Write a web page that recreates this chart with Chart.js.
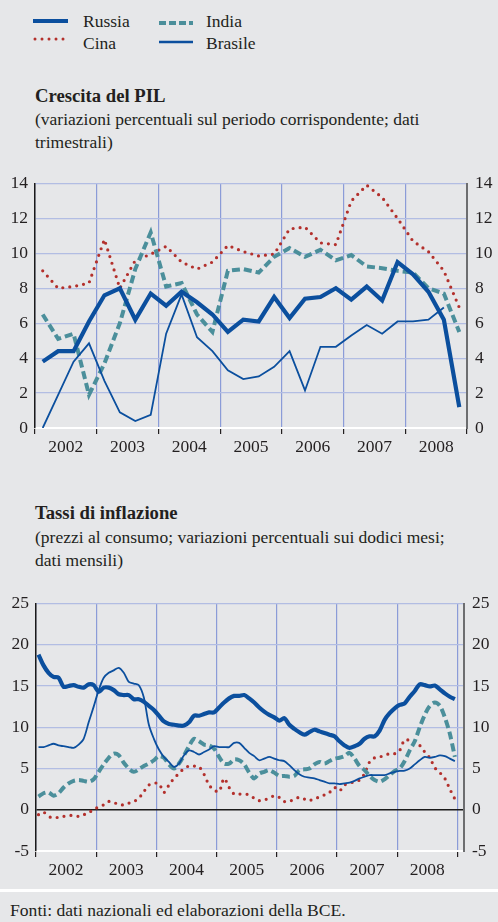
<!DOCTYPE html>
<html>
<head>
<meta charset="utf-8">
<script src="https://cdn.jsdelivr.net/npm/chart.js@4.4.1/dist/chart.umd.min.js"></script>
<style>
  body { margin: 0; background: #e6e7e9; }
  #page { position: relative; width: 498px; height: 922px; overflow: hidden;
          font-family: "Liberation Serif", "Times New Roman", serif; color: #231f20; }
  .txt { position: absolute; left: 35px; font-size: 17.5px; line-height: 22.5px; white-space: nowrap; }
  .tit { font-weight: bold; font-size: 18.7px; }
  .leg { position: absolute; font-size: 17.5px; line-height: 20px; white-space: nowrap; }
  canvas { position: absolute; left: 0; }
</style>
</head>
<body>
<div id="page">
  <svg style="position:absolute;left:0;top:0" width="240" height="60">
    <line x1="33" y1="21" x2="68" y2="21" stroke="#0b4f9e" stroke-width="4"/>
    <line x1="35" y1="39" x2="68" y2="39" stroke="#b3302c" stroke-width="3" stroke-linecap="round" stroke-dasharray="0 7"/>
    <line x1="159" y1="23" x2="193" y2="23" stroke="#4b8f9b" stroke-width="4" stroke-dasharray="7 3"/>
    <line x1="159" y1="42" x2="193" y2="42" stroke="#0b4f9e" stroke-width="2.5"/>
  </svg>
  <div class="leg" style="left:83px;top:11px">Russia</div>
  <div class="leg" style="left:83px;top:33px">Cina</div>
  <div class="leg" style="left:206px;top:11px">India</div>
  <div class="leg" style="left:206px;top:33px">Brasile</div>

  <div class="txt tit" style="top:85px">Crescita del PIL</div>
  <div class="txt" style="top:108px">(variazioni percentuali sul periodo corrispondente; dati<br>trimestrali)</div>
  <canvas id="pil" width="498" height="305" style="top:165px"></canvas>

  <div class="txt tit" style="top:502px">Tassi di inflazione</div>
  <div class="txt" style="top:526px">(prezzi al consumo; variazioni percentuali sui dodici mesi;<br>dati mensili)</div>
  <canvas id="inf" width="498" height="300" style="top:585px"></canvas>

  <div style="position:absolute;left:0;top:889px;width:498px;height:3px;background:#fff"></div>
  <div class="txt" style="left:10px;top:899px;font-size:17.6px">Fonti: dati nazionali ed elaborazioni della BCE.</div>
</div>

<script>
// anni sull'asse orizzontale
var years = [2002, 2003, 2004, 2005, 2006, 2007, 2008];

// Crescita del PIL, dati trimestrali 2002T1 - 2008T4
var pilRussia  = [3.8, 4.4, 4.4, 6.1, 7.6, 8.0, 6.2, 7.7, 7.0, 7.8, 7.2, 6.5, 5.5, 6.2,
                  6.1, 7.5, 6.3, 7.4, 7.5, 8.0, 7.35, 8.1, 7.3, 9.5, 8.8, 7.8, 6.2, 1.2];
var pilCina    = [9.0, 8.0, 8.1, 8.3, 10.8, 8.0, 9.6, 9.95, 10.4, 9.5, 9.1, 9.5, 10.45, 10.1,
                  9.85, 9.95, 11.4, 11.5, 10.6, 10.5, 13.0, 13.9, 13.2, 12.0, 10.7, 10.1, 9.0, 6.9];
var pilIndia   = [6.5, 5.1, 5.4, 1.9, 3.7, 6.0, 9.1, 11.2, 8.1, 8.3, 6.5, 5.5, 9.0, 9.1,
                  8.9, 9.8, 10.3, 9.8, 10.2, 9.6, 9.9, 9.25, 9.15, 9.0, 8.9, 8.0, 7.7, 5.5];
var pilBrasile = [0.0, 1.9, 3.8, 4.85, 2.7, 0.9, 0.4, 0.75, 5.4, 7.65, 5.2, 4.4, 3.3, 2.8,
                  2.95, 3.5, 4.4, 2.15, 4.65, 4.65, 5.3, 5.9, 5.4, 6.1, 6.1, 6.2, 6.9, null];

// Tassi di inflazione, dati mensili gen 2002 - dic 2008
var infRussia = [18.8, 17.5, 16.6, 16.1, 16.0, 14.9, 15.0, 15.1, 14.9, 14.8, 15.2, 15.1,
                 14.3, 14.8, 14.8, 14.5, 14.0, 13.9, 13.9, 13.4, 13.4, 13.1, 12.6, 12.1,
                 11.4, 10.7, 10.4, 10.3, 10.2, 10.2, 10.6, 11.4, 11.4, 11.6, 11.8, 11.8,
                 12.4, 13.0, 13.5, 13.8, 13.8, 13.9, 13.5, 13.0, 12.4, 11.9, 11.5, 11.2,
                 10.8, 11.1, 10.3, 9.8, 9.4, 9.1, 9.4, 9.7, 9.5, 9.3, 9.1, 8.9,
                 8.3, 7.8, 7.5, 7.7, 8.0, 8.6, 8.9, 8.9, 9.6, 10.9, 11.7, 12.3,
                 12.7, 12.9, 13.7, 14.4, 15.2, 15.1, 14.95, 15.05, 14.6, 14.1, 13.7, 13.4];
var infBrasile = [7.6, 7.6, 7.8, 8.0, 7.8, 7.7, 7.6, 7.5, 7.9, 8.6, 10.6, 12.5,
                  14.5, 16.0, 16.6, 16.9, 17.2, 16.6, 15.5, 15.3, 15.1, 13.6, 10.3, 8.6,
                  7.3, 6.4, 5.8, 5.2, 5.6, 6.6, 7.2, 7.0, 6.7, 7.0, 7.3, 7.7,
                  7.6, 7.6, 7.6, 8.1, 8.1, 7.5, 6.9, 6.5, 6.0, 6.2, 6.4, 6.2,
                  6.0, 5.9, 5.4, 4.8, 4.3, 4.0, 3.9, 3.8, 3.6, 3.4, 3.2, 3.2,
                  3.1, 3.2, 3.3, 3.5, 3.8, 4.0, 4.2, 4.2, 4.2, 4.2, 4.4, 4.6,
                  4.7, 4.75, 5.0, 5.5, 6.0, 6.4, 6.3, 6.4, 6.6, 6.5, 6.2, 5.9];
var infIndia = [1.6, 2.0, 2.1, 1.7, 2.0, 2.7, 3.2, 3.5, 3.6, 3.5, 3.4, 3.7,
                4.6, 5.5, 6.3, 6.8, 6.6, 5.7, 5.0, 4.6, 4.9, 5.3, 5.6, 6.0,
                6.5, 6.3, 5.5, 5.0, 5.6, 6.6, 7.7, 8.6, 8.3, 7.9, 7.8, 7.4,
                6.4, 5.6, 5.6, 6.1, 6.0, 5.5, 4.5, 3.8, 4.4, 4.6, 4.8, 4.5,
                4.1, 4.1, 4.0, 4.1, 4.8, 4.9, 5.0, 5.5, 5.8, 5.6, 5.9, 6.2,
                6.3, 6.5, 6.9, 6.2, 5.3, 4.8, 4.1, 3.6, 3.4, 3.7, 4.2, 4.7,
                5.0, 5.9, 7.2, 8.3, 10.0, 11.5, 12.6, 13.0, 12.6, 11.2, 9.2, 6.4];
var infCina = [-0.6, -0.3, -0.8, -1.0, -0.9, -0.8, -0.7, -0.7, -0.8, -0.6, -0.4, 0.1,
               0.3, 0.6, 1.0, 0.9, 0.6, 0.6, 0.8, 1.0, 1.4, 2.2, 3.0, 3.2,
               3.2, 2.1, 3.0, 3.8, 4.4, 5.0, 5.3, 5.3, 5.2, 4.3, 3.0, 2.4,
               2.2, 3.8, 2.7, 1.9, 1.9, 1.9, 1.8, 1.4, 1.1, 1.2, 1.4, 1.7,
               1.5, 1.0, 1.0, 1.3, 1.5, 1.3, 1.1, 1.4, 1.5, 1.8, 2.1, 2.7,
               2.3, 3.0, 3.2, 3.4, 3.6, 4.4, 5.8, 6.3, 6.4, 6.6, 6.8, 6.8,
               7.2, 8.5, 8.4, 8.3, 7.8, 7.0, 6.3, 5.1, 4.5, 3.8, 2.5, 1.3];

var BLU = '#0b4f9e', ROSSO = '#b3302c', VERDE = '#4b8f9b';

Chart.defaults.font.family = '"Liberation Serif", "Times New Roman", serif';
Chart.defaults.font.size = 17.5;
Chart.defaults.color = '#231f20';

// valori -> punti {x,y}: x in anni, centrato sul periodo
function toPoints(values, perYear) {
  return values.map(function(v, i) {
    return { x: years[0] + (i + 0.5) / perYear, y: v };
  });
}

function series(pts, tension) {
  var base = { pointRadius: 0, fill: false, tension: tension, spanGaps: false };
  return [
    Object.assign({ data: pts.russia, borderColor: BLU, borderWidth: 4.2 }, base),
    Object.assign({ data: pts.brasile, borderColor: BLU, borderWidth: 1.8 }, base),
    Object.assign({ data: pts.india, borderColor: VERDE, borderWidth: 4, borderDash: [8, 4] }, base),
    Object.assign({ data: pts.cina, borderColor: ROSSO, borderWidth: 3.2, borderDash: [0, 7], borderCapStyle: 'round' }, base)
  ];
}

function makeChart(id, datasets, o) {
  var yGrid = {
    color: function(c) { return c.tick && c.tick.value === 0 && o.min < 0 ? '#1a1a1a' : '#b2bde3'; },
    lineWidth: function(c) { return c.tick && c.tick.value === 0 && o.min < 0 ? 1.5 : 1.2; },
    drawTicks: false
  };
  return new Chart(document.getElementById(id), {
    type: 'line',
    data: { datasets: datasets },
    options: {
      responsive: false,
      animation: false,
      events: [],
      layout: { padding: { top: 16, left: 0, right: 0, bottom: 0 } },
      plugins: { legend: { display: false }, tooltip: { enabled: false } },
      scales: {
        x: {
          type: 'linear',
          min: years[0],
          max: o.xMax,
          afterBuildTicks: function(s) {
            var t = [];
            for (var y = years[0]; y <= years[years.length - 1] + 1; y++) {
              t.push({ value: y });
              if (y <= years[years.length - 1]) t.push({ value: y + 0.5 });
            }
            s.ticks = t;
          },
          afterFit: function(s) { s.height = o.xHeight; },
          ticks: {
            autoSkip: false, maxRotation: 0, padding: 3,
            callback: function(v) { return v % 1 ? String(Math.floor(v)) : ''; }
          },
          grid: {
            color: function(c) { return c.tick && c.tick.value % 1 === 0 ? '#8b9cd8' : 'rgba(0,0,0,0)'; },
            tickColor: function(c) { return c.tick && c.tick.value % 1 === 0 ? '#231f20' : 'rgba(0,0,0,0)'; },
            lineWidth: 1.2,
            tickLength: 6
          },
          border: { color: '#ffffff', width: 2 }
        },
        y: {
          position: 'left',
          min: o.min, max: o.max,
          ticks: { stepSize: o.step, padding: 7 },
          afterFit: function(s) { s.width = o.left; },
          grid: yGrid,
          border: { color: '#1a1a1a', width: 1.5 }
        },
        y2: {
          position: 'right',
          min: o.min, max: o.max,
          ticks: { stepSize: o.step, padding: 8 },
          afterFit: function(s) { s.width = o.right; },
          grid: { display: false, drawTicks: false },
          border: { color: '#6d6e70', width: 2 }
        }
      }
    }
  });
}

makeChart('pil', series({
  russia: toPoints(pilRussia, 4),
  brasile: toPoints(pilBrasile, 4),
  india: toPoints(pilIndia, 4),
  cina: toPoints(pilCina, 4)
}, 0), { min: 0, max: 14, step: 2, xMax: 2009, xHeight: 42, left: 35, right: 31 });

makeChart('inf', series({
  russia: toPoints(infRussia, 12),
  brasile: toPoints(infBrasile, 12),
  india: toPoints(infIndia, 12),
  cina: toPoints(infCina, 12)
}, 0.3), { min: -5, max: 25, step: 5, xMax: 2009.11, xHeight: 34, left: 36, right: 34 });
</script>
</body>
</html>
